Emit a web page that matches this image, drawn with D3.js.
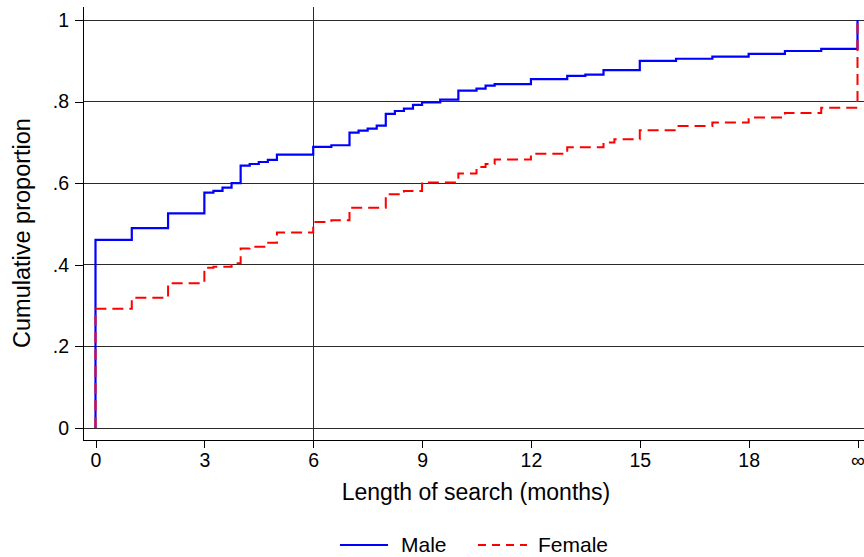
<!DOCTYPE html>
<html>
<head>
<meta charset="utf-8">
<script src="https://cdn.jsdelivr.net/npm/d3@7"></script>
<style>
  body { margin: 0; background: #fff; }
  svg { display: block; font-family: "Liberation Sans", Arial, sans-serif; }
</style>
</head>
<body>
<div id="chart"></div>
<script>
// Cumulative proportion found a job, by months of search (21 = never, "∞")
const maleMonths = [0, 0, 1, 2, 3, 3.25, 3.5, 3.75, 4, 4.25, 4.5, 4.75, 5, 6, 6.5, 7, 7.25, 7.5, 7.75, 8, 8.25, 8.5, 8.75, 9, 9.5, 10, 10.5, 10.75, 11, 12, 13, 13.5, 14, 15, 16, 17, 18, 19, 20, 21, 21];
const maleValues = [0, 0.461, 0.490, 0.526, 0.577, 0.581, 0.589, 0.600, 0.643, 0.647, 0.652, 0.657, 0.670, 0.689, 0.693, 0.724, 0.729, 0.734, 0.741, 0.770, 0.777, 0.783, 0.792, 0.798, 0.805, 0.827, 0.832, 0.839, 0.843, 0.855, 0.863, 0.866, 0.877, 0.900, 0.905, 0.910, 0.917, 0.924, 0.929, 0.931, 1.0];

const femaleMonths = [0, 0, 1, 2, 3, 3.25, 3.75, 4, 4.25, 4.7, 5, 6, 6.5, 7, 8, 8.5, 9, 10, 10.5, 10.75, 11, 12, 13, 14, 14.3, 15, 16, 17, 18, 19, 20, 21, 21];
const femaleValues = [0, 0.292, 0.319, 0.355, 0.393, 0.395, 0.404, 0.440, 0.444, 0.454, 0.479, 0.505, 0.509, 0.540, 0.573, 0.581, 0.602, 0.624, 0.640, 0.647, 0.658, 0.672, 0.688, 0.700, 0.708, 0.730, 0.740, 0.749, 0.761, 0.772, 0.785, 0.786, 1.0];

const xTickValues = [0, 3, 6, 9, 12, 15, 18, 21];
const xTickLabels = ["0", "3", "6", "9", "12", "15", "18", "\u221E"];
const yTickValues = [0, 0.2, 0.4, 0.6, 0.8, 1];
const yTickLabels = ["0", ".2", ".4", ".6", ".8", "1"];
const xLineAt = 6;

const seriesNames = ["Male", "Female"];
const seriesColors = ["#0000ff", "#ff0000"];

const W = 864, H = 557;
const plot = { left: 83, right: 864, top: 7, axisY: 440 };

const svg = d3.select("#chart").append("svg")
  .attr("width", W).attr("height", H);

const x = d3.scaleLinear().domain([0, 21]).range([95.5, 857.5]);
const y = d3.scaleLinear().domain([0, 1]).range([428, 20]);

// horizontal grid lines
svg.append("g")
  .selectAll("line")
  .data(yTickValues)
  .join("line")
  .attr("x1", plot.left).attr("x2", plot.right)
  .attr("y1", d => y(d)).attr("y2", d => y(d))
  .attr("stroke", "#2a2a2a").attr("stroke-width", 1)
  .attr("shape-rendering", "crispEdges");

// vertical reference line at 6 months
svg.append("line")
  .attr("x1", x(xLineAt)).attr("x2", x(xLineAt))
  .attr("y1", plot.top).attr("y2", plot.axisY)
  .attr("stroke", "#2a2a2a").attr("stroke-width", 1)
  .attr("shape-rendering", "crispEdges");

// Y axis
const yAxis = svg.append("g")
  .attr("transform", `translate(${plot.left},0)`)
  .call(d3.axisLeft(y).tickValues(yTickValues)
    .tickFormat((d, i) => yTickLabels[i]).tickSize(8).tickPadding(6).tickSizeOuter(0));
yAxis.select(".domain").attr("d", `M0,${plot.top}V${plot.axisY}`)
  .attr("stroke", "#000").attr("shape-rendering", "crispEdges");
yAxis.selectAll(".tick line").attr("stroke", "#000").attr("shape-rendering", "crispEdges");
yAxis.selectAll("text")
  .style("font-size", "19.5px")
  .style("font-family", "Liberation Sans, Arial, sans-serif")
  .attr("fill", "#000");

// X axis
const xAxis = svg.append("g")
  .attr("transform", `translate(0,${plot.axisY})`)
  .call(d3.axisBottom(x).tickValues(xTickValues)
    .tickFormat((d, i) => xTickLabels[i]).tickSize(8).tickPadding(5).tickSizeOuter(0));
xAxis.select(".domain").attr("d", `M${plot.left},0H${plot.right}`)
  .attr("stroke", "#000").attr("shape-rendering", "crispEdges");
xAxis.selectAll(".tick line").attr("stroke", "#000").attr("shape-rendering", "crispEdges");
xAxis.selectAll("text")
  .style("font-size", "19.5px")
  .style("font-family", "Liberation Sans, Arial, sans-serif")
  .attr("fill", "#000");

// step curves
const step = d3.line()
  .x(d => x(d[0]))
  .y(d => y(d[1]))
  .curve(d3.curveStepAfter);

svg.append("path")
  .datum(d3.zip(maleMonths, maleValues))
  .attr("fill", "none")
  .attr("stroke", seriesColors[0])
  .attr("stroke-width", 2.2)
  .attr("d", step);

svg.append("path")
  .datum(d3.zip(femaleMonths, femaleValues))
  .attr("fill", "none")
  .attr("stroke", seriesColors[1])
  .attr("stroke-width", 2)
  .attr("stroke-dasharray", "11,6")
  .attr("d", step);

// axis titles
svg.append("text")
  .attr("x", 476).attr("y", 500)
  .attr("text-anchor", "middle")
  .style("font-size", "23px")
  .text("Length of search (months)");

svg.append("text")
  .attr("transform", "translate(30,233) rotate(-90)")
  .attr("text-anchor", "middle")
  .style("font-size", "23.5px")
  .text("Cumulative proportion");

// legend
const legend = svg.append("g");
const legendItems = [
  { x1: 340, x2: 388, tx: 401, dash: null },
  { x1: 478, x2: 527, tx: 538, dash: "8,6" }
];
legendItems.forEach((it, i) => {
  legend.append("line")
    .attr("x1", it.x1).attr("x2", it.x2)
    .attr("y1", 545).attr("y2", 545)
    .attr("stroke", seriesColors[i])
    .attr("stroke-width", 2)
    .attr("stroke-dasharray", it.dash);
  legend.append("text")
    .attr("x", it.tx).attr("y", 552)
    .style("font-size", "21px")
    .text(seriesNames[i]);
});
</script>
</body>
</html>
